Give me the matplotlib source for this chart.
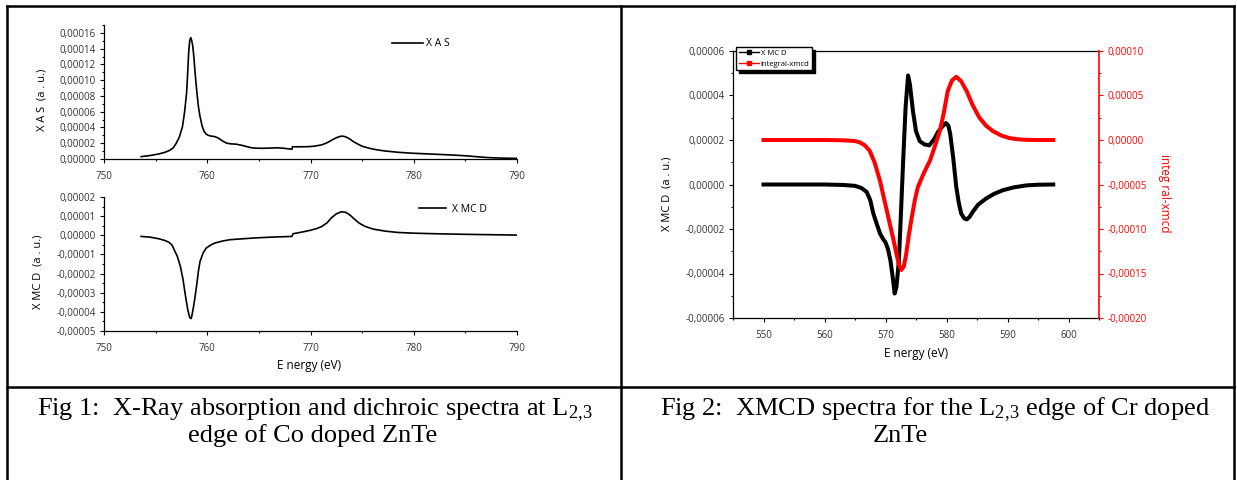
import matplotlib
matplotlib.use('Agg')
import matplotlib.pyplot as plt
from matplotlib.lines import Line2D
from matplotlib.ticker import MultipleLocator, FuncFormatter

# Fig 1 (Co L2,3 edge): energy (eV) and XAS / XMCD values
xas_e = [753.6, 754.5, 755.3, 755.9, 756.3, 756.7, 757.0, 757.3, 757.6, 757.8,
         758.0, 758.1, 758.2, 758.3, 758.4, 758.5, 758.6, 758.7, 758.85, 759.0,
         759.15, 759.3, 759.5, 759.7, 759.9, 760.1, 760.4, 760.7, 761.0, 761.3,
         761.6, 761.9, 762.3, 762.8, 763.4, 763.9, 764.3, 764.8, 765.3, 766.0,
         766.8, 767.5, 768.2, 768.25, 769.0, 769.9, 770.5, 771.1, 771.5, 771.8,
         772.2, 772.6, 772.9, 773.1, 773.4, 773.8, 774.1, 774.5, 775.0, 775.7,
         776.4, 777.2, 778.5, 779.9, 781.5, 783.0, 784.2, 785.3, 786.3, 787.2,
         788.5, 790.0]
xas_v = [3.0e-6, 4.5e-6, 6.4e-6, 8.5e-6, 1.06e-5, 1.4e-5, 2.0e-5, 2.8e-5, 4.1e-5, 5.9e-5,
         8.4e-5, 1.08e-4, 1.35e-4, 1.50e-4, 1.54e-4, 1.50e-4, 1.43e-4, 1.30e-4, 1.05e-4, 8.4e-5,
         6.6e-5, 5.4e-5, 4.2e-5, 3.5e-5, 3.15e-5, 3.0e-5, 2.9e-5, 2.85e-5, 2.7e-5, 2.45e-5,
         2.2e-5, 2.0e-5, 1.92e-5, 1.88e-5, 1.72e-5, 1.55e-5, 1.42e-5, 1.37e-5, 1.36e-5, 1.38e-5,
         1.42e-5, 1.35e-5, 1.23e-5, 1.55e-5, 1.55e-5, 1.57e-5, 1.65e-5, 1.8e-5, 2.0e-5, 2.2e-5,
         2.5e-5, 2.75e-5, 2.88e-5, 2.9e-5, 2.82e-5, 2.55e-5, 2.25e-5, 1.95e-5, 1.62e-5, 1.36e-5,
         1.17e-5, 1.02e-5, 8.5e-6, 7.3e-6, 6.4e-6, 5.5e-6, 4.7e-6, 3.8e-6, 2.7e-6, 1.8e-6,
         1.1e-6, 0.8e-6]

xmcd1_e = [753.6, 754.5, 755.3, 755.9, 756.3, 756.6, 756.8, 757.1, 757.4, 757.65,
           757.9, 758.1, 758.3, 758.45, 758.6, 758.8, 759.0, 759.15, 759.3, 759.6,
           759.9, 760.3, 760.7, 761.4, 762.2, 763.5, 764.9, 766.5, 768.2, 768.3,
           769.0, 769.9, 770.6, 771.1, 771.6, 772.0, 772.5, 773.0, 773.4, 773.8,
           774.2, 774.7, 775.3, 776.1, 777.2, 778.4, 780.0, 782.2, 785.0, 787.5, 790.0]
xmcd1_v = [-0.6e-6, -1.0e-6, -1.8e-6, -2.7e-6, -3.7e-6, -5.2e-6, -7.6e-6, -1.1e-5, -1.63e-5, -2.3e-5,
           -3.2e-5, -3.85e-5, -4.3e-5, -4.35e-5, -3.95e-5, -3.3e-5, -2.5e-5, -1.85e-5, -1.37e-5, -9.2e-6,
           -6.7e-6, -5.2e-6, -4.1e-6, -3.1e-6, -2.3e-6, -1.8e-6, -1.3e-6, -0.9e-6, -0.6e-6, 0.8e-6,
           1.5e-6, 2.5e-6, 3.5e-6, 4.6e-6, 6.5e-6, 9.0e-6, 1.12e-5, 1.23e-5, 1.2e-5, 1.07e-5,
           8.7e-6, 6.4e-6, 4.6e-6, 3.2e-6, 2.2e-6, 1.5e-6, 1.1e-6, 0.8e-6, 0.5e-6, 0.3e-6, 0.1e-6]

# Fig 2 (Cr L2,3 edge): XMCD (left axis) and integral-xmcd (right axis)
xmcd2_e = [550.0, 555.0, 560.0, 563.0, 565.0, 566.0, 566.9, 567.5, 568.0, 568.6,
           569.1, 569.6, 570.0, 570.4, 570.8, 571.2, 571.5, 571.8, 572.2, 572.5,
           572.9, 573.3, 573.7, 574.0, 574.5, 575.0, 575.6, 576.4, 577.2, 578.0,
           578.6, 579.3, 579.9, 580.3, 580.6, 581.1, 581.6, 582.0, 582.4, 582.9,
           583.3, 583.8, 584.3, 585.2, 586.5, 587.8, 589.2, 591.0, 593.1, 595.0, 597.5]
xmcd2_v = [0.0, 0.0, 0.0, -0.2e-6, -0.6e-6, -1.5e-6, -3.3e-6, -7e-6, -1.3e-5, -1.8e-5,
           -2.2e-5, -2.45e-5, -2.6e-5, -2.9e-5, -3.4e-5, -4.2e-5, -4.9e-5, -4.6e-5, -3.4e-5, -1.5e-5,
           1.1e-5, 3.5e-5, 4.9e-5, 4.5e-5, 3.3e-5, 2.4e-5, 1.95e-5, 1.8e-5, 1.76e-5, 2.05e-5,
           2.36e-5, 2.6e-5, 2.76e-5, 2.65e-5, 2.29e-5, 1.2e-5, -1.1e-6, -8e-6, -1.3e-5, -1.52e-5,
           -1.57e-5, -1.45e-5, -1.23e-5, -9e-6, -6.3e-6, -4.2e-6, -2.6e-6, -1.3e-6, -0.4e-6, -0.1e-6, 0.0]

integ_e = [550.0, 555.0, 560.0, 563.0, 565.0, 565.8, 566.6, 567.4, 568.2, 569.1,
           569.9, 570.7, 571.3, 571.8, 572.2, 572.6, 573.0, 573.4, 573.8, 574.3,
           574.8, 575.3, 576.3, 577.3, 578.1, 578.9, 579.6, 580.2, 580.9, 581.6,
           582.4, 583.3, 584.3, 585.4, 586.5, 587.6, 589.0, 590.3, 591.7, 593.1, 595.0, 597.5]
integ_v = [0.0, 0.0, 0.0, -0.3e-6, -1.2e-6, -2.7e-6, -6e-6, -1.2e-5, -2.5e-5, -4.6e-5,
           -7e-5, -9.4e-5, -1.12e-4, -1.28e-4, -1.40e-4, -1.46e-4, -1.42e-4, -1.28e-4, -1.08e-4, -8.7e-5,
           -6.8e-5, -5.3e-5, -3.7e-5, -2.3e-5, -7e-6, 1.0e-5, 3.2e-5, 5.5e-5, 6.7e-5, 7.1e-5,
           6.6e-5, 5.5e-5, 3.9e-5, 2.5e-5, 1.6e-5, 1.0e-5, 5e-6, 2.2e-6, 0.8e-6, 0.2e-6, 0.0, 0.0]

W, H = 1237, 480
plt.rcParams['font.family'] = ['Open Sans', 'DejaVu Sans']
plt.rcParams['mathtext.default'] = 'regular'
TICKCOL = '#333333'
TICKSIZE = 7


def fx(px):
    return px / W


def fy(py):
    return 1 - py / H


def comma(v, pos):
    if abs(v) < 1e-12:
        v = 0.0
    return ('%.5f' % v).replace('.', ',')


def style(ax, ymaj, ymin):
    ax.xaxis.set_major_locator(MultipleLocator(10))
    ax.xaxis.set_minor_locator(MultipleLocator(5))
    ax.yaxis.set_major_locator(MultipleLocator(ymaj))
    ax.yaxis.set_minor_locator(MultipleLocator(ymin))
    ax.yaxis.set_major_formatter(FuncFormatter(comma))
    ax.tick_params(which='major', direction='out', length=3, width=0.8,
                   labelsize=TICKSIZE, labelcolor=TICKCOL, pad=3)
    ax.tick_params(which='minor', direction='out', length=1.5, width=0.8)
    ax.tick_params(axis='x', which='major', pad=5.5)
    for s in ax.spines.values():
        s.set_linewidth(0.9)


fig = plt.figure(figsize=(W / 100, H / 100), dpi=100)

# --- Fig 1, top: XAS
ax1 = fig.add_axes([fx(104), fy(159), (517 - 104) / W, (159 - 25) / H])
ax1.plot(xas_e, xas_v, color='k', lw=1.2, label='X A S')
ax1.set_xlim(750, 790)
ax1.set_ylim(0, 0.00017)
ax1.spines['top'].set_visible(False)
ax1.spines['right'].set_visible(False)
style(ax1, 0.00002, 0.00001)
ax1.legend(loc='center left', bbox_to_anchor=(fx(392), fy(44)), bbox_transform=fig.transFigure,
           frameon=False, fontsize=7.5, handlelength=3.0, handletextpad=0.3,
           borderpad=0, borderaxespad=0)
fig.text(fx(42), fy(100), 'X A S  (a . u.)', rotation=90, ha='center', va='center', fontsize=8)

# --- Fig 1, bottom: XMCD
ax2 = fig.add_axes([fx(104), fy(331), (517 - 104) / W, (331 - 197) / H])
ax2.plot(xmcd1_e, xmcd1_v, color='k', lw=1.2, label='X MC D')
ax2.set_xlim(750, 790)
ax2.set_ylim(-0.00005, 0.00002)
ax2.spines['top'].set_visible(False)
ax2.spines['right'].set_visible(False)
style(ax2, 0.00001, 0.000005)
ax2.legend(loc='center left', bbox_to_anchor=(fx(419), fy(209)), bbox_transform=fig.transFigure,
           frameon=False, fontsize=7.5, handlelength=2.6, handletextpad=0.6,
           borderpad=0, borderaxespad=0)
fig.text(fx(38), fy(272), 'X MC D  (a . u.)', rotation=90, ha='center', va='center', fontsize=8)
fig.text(fx(309), fy(366), 'E nergy (eV)', ha='center', va='center', fontsize=8.5)

# --- Fig 2: XMCD + integral
ax3 = fig.add_axes([fx(733), fy(318), (1099 - 733) / W, (318 - 51) / H])
ax3.plot(xmcd2_e, xmcd2_v, color='k', lw=2.9)
ax3.set_xlim(545, 605)
ax3.set_ylim(-0.00006, 0.00006)
style(ax3, 0.00002, 0.00001)
ax3.spines['right'].set_visible(False)

ax4 = ax3.twinx()
ax4.plot(integ_e, integ_v, color='red', lw=2.9)
ax4.set_ylim(-0.0002, 0.0001)
ax4.yaxis.set_major_locator(MultipleLocator(0.00005))
ax4.yaxis.set_minor_locator(MultipleLocator(0.000025))
ax4.yaxis.set_major_formatter(FuncFormatter(comma))
ax4.tick_params(which='major', direction='out', length=3, width=0.8, colors='red',
                labelsize=TICKSIZE, pad=3)
ax4.tick_params(which='minor', direction='out', length=1.5, width=0.8, colors='red')
for side in ['left', 'top', 'bottom']:
    ax4.spines[side].set_visible(False)
ax4.spines['right'].set_color('red')
ax4.spines['right'].set_linewidth(1.2)

handles = [Line2D([], [], color='k', lw=1, marker='s', ms=2.5),
           Line2D([], [], color='red', lw=1, marker='s', ms=2.5)]
ax4.legend(handles, ['X MC D', 'integral-xmcd'], loc='upper left',
           bbox_to_anchor=(fx(736), fy(47)), bbox_transform=fig.transFigure,
           fontsize=5.5, handlelength=2.6, handletextpad=0.3, labelspacing=0.45,
           borderpad=0.35, borderaxespad=0, numpoints=1, fancybox=False,
           edgecolor='k', framealpha=1, shadow={'color': 'k', 'alpha': 1})

fig.text(fx(667), fy(194), 'X MC D  (a . u.)', rotation=90, ha='center', va='center', fontsize=8)
fig.text(fx(1165), fy(193), 'integ ral-xmcd', rotation=-90, ha='center', va='center',
         fontsize=8.5, color='red')
fig.text(fx(916), fy(354), 'E nergy (eV)', ha='center', va='center', fontsize=8.5)

# --- table borders
for xs, ys in [((7, 1234), (6, 6)), ((7, 1234), (387, 387)),
               ((7, 7), (6, 480)), ((621, 621), (6, 480)), ((1234, 1234), (6, 480))]:
    fig.add_artist(Line2D([fx(x) for x in xs], [fy(y) for y in ys],
                          transform=fig.transFigure, color='k', lw=1.8))

# --- captions
cap = dict(ha='center', va='baseline', fontsize=19, family='Liberation Serif')
fig.text(fx(315), fy(415), r'Fig 1:  X-Ray absorption and dichroic spectra at L$_{2,\!3}$', **cap)
fig.text(fx(313), fy(442), 'edge of Co doped ZnTe', **cap)
fig.text(fx(935), fy(415), r'Fig 2:  XMCD spectra for the L$_{2,\!3}$ edge of Cr doped', **cap)
fig.text(fx(900), fy(442), 'ZnTe', **cap)

fig.savefig('out.png', dpi=100, facecolor='w')
